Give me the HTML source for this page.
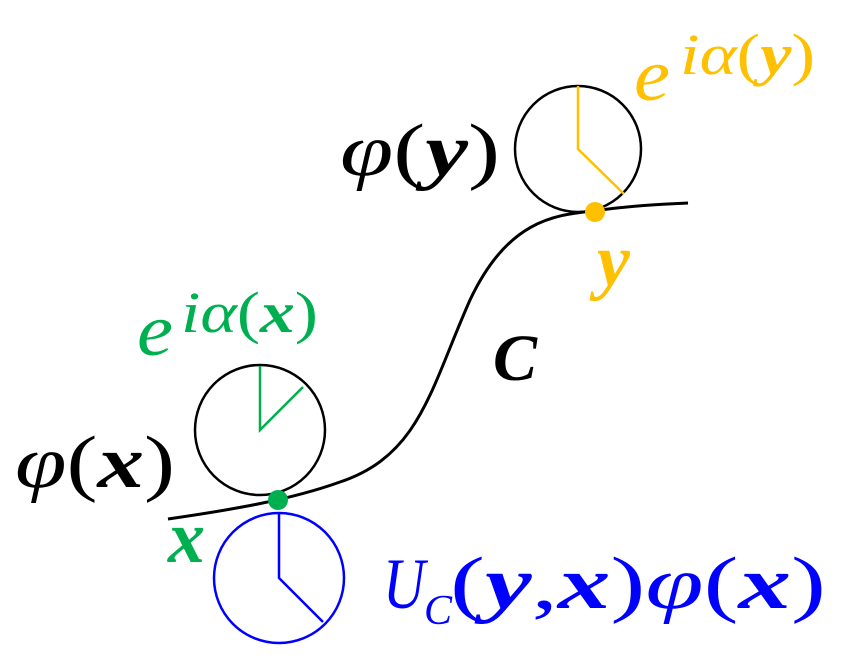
<!DOCTYPE html>
<html><head><meta charset="utf-8"><style>
html,body{margin:0;padding:0;background:#fff;}
svg{display:block;}
text{font-family:"Liberation Serif","DejaVu Serif",serif;font-style:italic;}
</style></head><body>
<svg width="855" height="661" viewBox="0 0 855 661" xmlns="http://www.w3.org/2000/svg">
<path d="M168,519 C230,510 290,500 340,482 C420,455 430,390 470,300 C510,215 560,215 600,210 C640,205 665,204 688,203" fill="none" stroke="#000" stroke-width="3"/>
<circle cx="260" cy="430" r="65" fill="none" stroke="#000" stroke-width="2.5"/>
<polyline points="260,366 260,430 303,387" fill="none" stroke="#00B050" stroke-width="2.5"/>
<circle cx="279" cy="578" r="65" fill="none" stroke="#0000FF" stroke-width="2.5"/>
<polyline points="279,513 279,578 323,622" fill="none" stroke="#0000FF" stroke-width="2.5"/>
<circle cx="578" cy="149" r="63" fill="none" stroke="#000" stroke-width="2.5"/>
<polyline points="578,86 578,149 624,194" fill="none" stroke="#FFC000" stroke-width="2.5"/>
<circle cx="278" cy="500" r="10" fill="#00B050"/>
<circle cx="595" cy="212" r="10" fill="#FFC000"/>

<text x="340" y="175" font-size="74" fill="#000" textLength="160" lengthAdjust="spacingAndGlyphs">φ<tspan font-style="normal">(</tspan><tspan font-weight="bold">y</tspan><tspan font-style="normal">)</tspan></text>
<text x="15" y="487" font-size="74" fill="#000" textLength="160" lengthAdjust="spacingAndGlyphs">φ<tspan font-style="normal">(</tspan><tspan font-weight="bold">x</tspan><tspan font-style="normal">)</tspan></text>

<text x="634" y="100" font-size="74" fill="#FFC000" textLength="36" lengthAdjust="spacingAndGlyphs">e</text>
<text x="680" y="74" font-size="58" fill="#FFC000" textLength="135" lengthAdjust="spacingAndGlyphs">iα<tspan font-style="normal">(</tspan><tspan font-weight="bold">y</tspan><tspan font-style="normal">)</tspan></text>

<text x="137" y="355" font-size="74" fill="#00B050" textLength="36" lengthAdjust="spacingAndGlyphs">e</text>
<text x="181" y="332" font-size="58" fill="#00B050" textLength="137" lengthAdjust="spacingAndGlyphs">iα<tspan font-style="normal">(</tspan><tspan font-weight="bold">x</tspan><tspan font-style="normal">)</tspan></text>

<text x="597" y="285" fill="#FFC000" font-weight="bold" font-size="74">y</text>
<text x="493" y="380" fill="#000" font-weight="bold" font-size="66">C</text>
<text x="168" y="562" fill="#00B050" font-weight="bold" font-size="74">x</text>

<text x="383" y="608" font-size="72" fill="#0000FF" textLength="42" lengthAdjust="spacingAndGlyphs">U</text>
<text x="424" y="624" font-size="42" fill="#0000FF">C</text>
<text x="450" y="608" font-size="74" fill="#0000FF" textLength="376" lengthAdjust="spacingAndGlyphs"><tspan font-style="normal">(</tspan><tspan font-weight="bold">y</tspan><tspan font-style="normal">,</tspan><tspan font-weight="bold">x</tspan><tspan font-style="normal">)</tspan>φ<tspan font-style="normal">(</tspan><tspan font-weight="bold">x</tspan><tspan font-style="normal">)</tspan></text>
</svg>
</body></html>
